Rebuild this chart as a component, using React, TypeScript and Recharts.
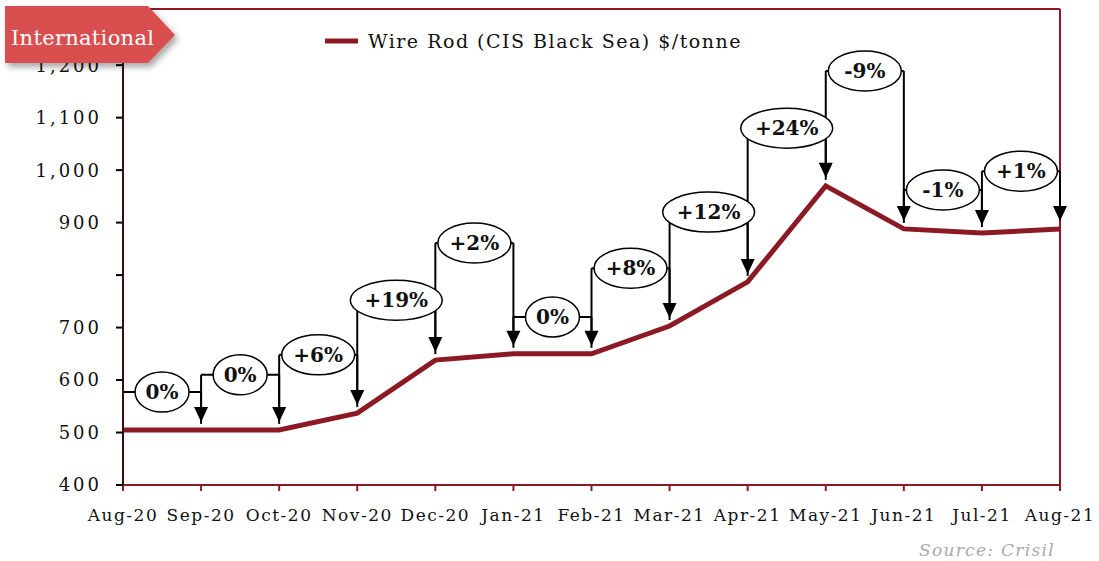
import { LineChart, Line, XAxis, YAxis, ReferenceLine } from 'recharts'

const months = ['Aug-20', 'Sep-20', 'Oct-20', 'Nov-20', 'Dec-20', 'Jan-21', 'Feb-21', 'Mar-21', 'Apr-21', 'May-21', 'Jun-21', 'Jul-21', 'Aug-21']
const prices = [505, 505, 505, 537, 638, 650, 650, 703, 787, 970, 888, 880, 888]
const changeLabels = ['0%', '0%', '+6%', '+19%', '+2%', '0%', '+8%', '+12%', '+24%', '-9%', '-1%', '+1%']
const bubbleLevels = [577, 610, 648, 752, 861, 720, 813, 920, 1080, 1189, 962, 998]
const yTicks = [400, 500, 600, 700, 800, 900, 1000, 1100, 1200]

const Y_MIN = 400
const Y_MAX = 1307
const SERIF = '"DejaVu Serif", "Liberation Serif", serif'
const WINE = '#8B1A24'

const data = months.map((month, i) => ({ month, price: prices[i] }))

const GAP = 6

// vertical leg rising from the previous point up to the bubble level
const LeftLeg = (p: any) => (
  <line x1={p.x1} y1={p.y1 - GAP} x2={p.x2} y2={p.y2} stroke="#000" strokeWidth={2} />
)

// vertical leg going down from the bubble level to the next point, with arrow head
const ArrowLeg = (p: any) => {
  const tip = p.y2 - 8
  const head = tip - 15
  return (
    <g>
      <line x1={p.x1} y1={p.y1} x2={p.x1} y2={head} stroke="#000" strokeWidth={2} />
      <polygon points={`${p.x1 - 7},${head} ${p.x1 + 7},${head} ${p.x1},${tip}`} fill="#000" />
    </g>
  )
}

const makeBubble = (text: string) => (p: any) => {
  const cx = (p.x1 + p.x2) / 2
  const rx = text.length * 9.5 + 8
  return (
    <g>
      <line x1={p.x1} y1={p.y1} x2={p.x2} y2={p.y2} stroke="#000" strokeWidth={2} />
      <ellipse cx={cx} cy={p.y1} rx={rx} ry={20} fill="#fff" stroke="#000" strokeWidth={1.5} />
      <text x={cx} y={p.y1} dy="0.36em" textAnchor="middle" fontFamily={SERIF} fontWeight="bold" fontSize={20} fill="#111">
        {text}
      </text>
    </g>
  )
}

const fmtY = (v: number) => (v === 800 ? '' : v.toLocaleString('en-US'))

export default function App() {
  return (
    <div style={{ position: 'absolute', left: 0, top: 0, width: 1099, height: 561, background: '#fff' }}>
      <LineChart width={1099} height={561} data={data} margin={{ top: 9, right: 39, bottom: 36, left: 0 }}>
        <XAxis
          dataKey="month"
          interval={0}
          padding={{ left: 0, right: 0 }}
          axisLine={{ stroke: WINE, strokeWidth: 2 }}
          tickLine={{ stroke: WINE, strokeWidth: 2 }}
          tickSize={6}
          tickMargin={18}
          height={40}
          tick={{ fill: '#111', fontSize: 17, fontFamily: SERIF, letterSpacing: 1.5 }}
        />
        <YAxis
          domain={[Y_MIN, Y_MAX]}
          ticks={yTicks}
          width={123}
          allowDataOverflow
          tickFormatter={fmtY}
          axisLine={{ stroke: '#3a0c0c', strokeWidth: 2 }}
          tickLine={{ stroke: '#000', strokeWidth: 2 }}
          tickSize={7}
          tickMargin={14}
          tick={{ fill: '#111', fontSize: 18, fontFamily: SERIF, letterSpacing: 3 }}
        />
        <ReferenceLine y={Y_MAX} stroke={WINE} strokeWidth={2} />
        <ReferenceLine x="Aug-21" stroke={WINE} strokeWidth={2} />
        <Line type="linear" dataKey="price" stroke={WINE} strokeWidth={5} dot={false} isAnimationActive={false} />
        {changeLabels.map((_, i) => (
          <ReferenceLine
            key={`l${i}`}
            segment={[{ x: months[i], y: prices[i] }, { x: months[i], y: bubbleLevels[i] }]}
            shape={LeftLeg}
          />
        ))}
        {changeLabels.map((_, i) => (
          <ReferenceLine
            key={`r${i}`}
            segment={[{ x: months[i + 1], y: bubbleLevels[i] }, { x: months[i + 1], y: prices[i + 1] }]}
            shape={ArrowLeg}
          />
        ))}
        {changeLabels.map((label, i) => (
          <ReferenceLine
            key={`b${i}`}
            segment={[{ x: months[i], y: bubbleLevels[i] }, { x: months[i + 1], y: bubbleLevels[i] }]}
            shape={makeBubble(label)}
          />
        ))}
      </LineChart>

      <svg width={1099} height={561} style={{ position: 'absolute', left: 0, top: 0, pointerEvents: 'none' }}>
        <defs>
          <filter id="tagShadow" x="-10%" y="-20%" width="130%" height="160%">
            <feDropShadow dx={3} dy={4} stdDeviation={3} floodColor="#000" floodOpacity={0.35} />
          </filter>
        </defs>
        <polygon points="5,6 148,6 175,35 148,63 5,63" fill="#D9504F" filter="url(#tagShadow)" />
        <text x={11} y={45} fontFamily={SERIF} fontSize={21} letterSpacing={0.3} fill="#fff">
          International
        </text>

        <line x1={325} y1={41} x2={358} y2={41} stroke={WINE} strokeWidth={5} />
        <text x={368} y={48} fontFamily={SERIF} fontSize={19} letterSpacing={1.5} fill="#111">
          Wire Rod (CIS Black Sea) $/tonne
        </text>

        <text x={1055} y={556} textAnchor="end" fontFamily={SERIF} fontStyle="italic" fontSize={17} letterSpacing={1.3} fill="#aaa">
          Source: Crisil
        </text>
      </svg>
    </div>
  )
}
